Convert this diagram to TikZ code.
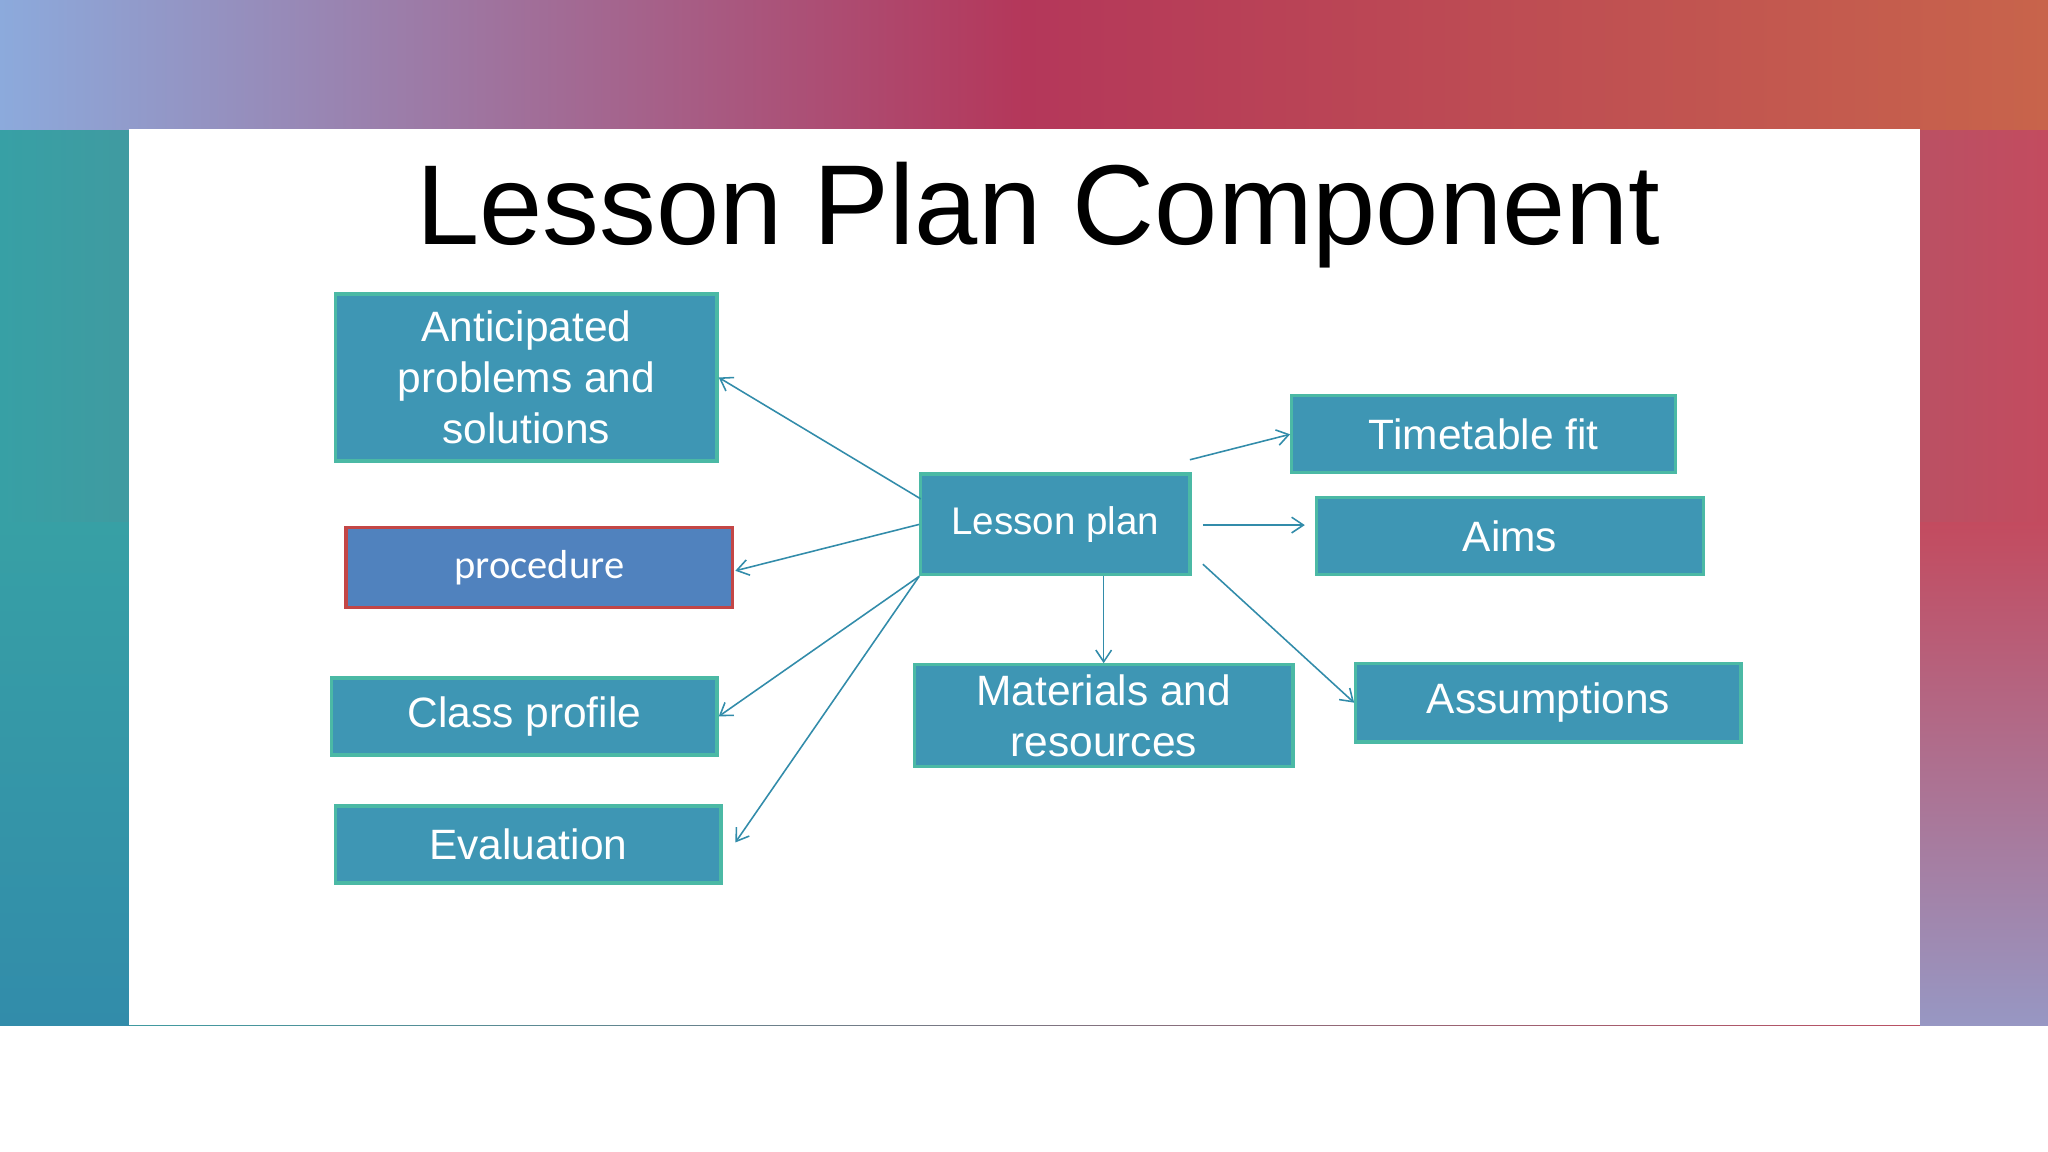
\documentclass[tikz,border=0pt]{standalone}
\usepackage{fontspec}
\setmainfont{Liberation Sans}
\newfontfamily\calib{Carlito}
\usetikzlibrary{arrows.meta}
\definecolor{boxfill}{RGB}{62,150,180}
\definecolor{boxline}{RGB}{75,185,165}
\definecolor{procfill}{RGB}{80,130,190}
\definecolor{procline}{RGB}{195,70,70}
\definecolor{arr}{RGB}{50,140,170}
\definecolor{bgl}{RGB}{55,160,165}
\definecolor{bgr}{RGB}{195,75,95}
\definecolor{topl}{RGB}{140,170,220}
\definecolor{topm}{RGB}{180,55,90}
\definecolor{topr}{RGB}{200,100,75}
\tikzset{
  bx/.style={draw=boxline, line width=2.5pt, fill=boxfill, text=white, align=center, inner sep=0pt, font=\fontsize{32.5}{39}\selectfont},
  ar/.style={draw=arr, line width=1.2pt, -{Straight Barb[length=9pt,width=12pt]}}
}
\begin{document}
\begin{tikzpicture}[x=1pt,y=-1pt]
\useasboundingbox (0,0) rectangle (1568,882);
\fill[white] (0,0) rectangle (1568,882);
\shade[left color=bgl, right color=bgr] (0,0) rectangle (1568,785);
\shade[left color=topl, right color=topr, middle color=topm] (0,0) rectangle (1568,99);
\shade[top color=bgr, bottom color=topl!80!bgr] (1470,400) rectangle (1568,785);
\shade[top color=bgl, bottom color=arr] (0,400) rectangle (99,785);
\fill[white] (99,99) rectangle (1470,785);
\node (title) at (795,165) {\fontsize{87}{95}\selectfont Lesson Plan Component};
\node[bx, minimum width=292, minimum height=128] (ant) at (403,289) {Anticipated\\problems and\\solutions};
\node[bx, fill=procfill, draw=procline, minimum width=296, minimum height=61, font=\calib\fontsize{31}{36}\selectfont] (proc) at (413,434.5) {procedure};
\node[bx, minimum width=295, minimum height=59] (cls) at (401.5,548.5) {Class profile};
\node[bx, minimum width=295, minimum height=59] (ev) at (404.5,646.5) {Evaluation};
\node[bx, minimum width=206, minimum height=77, font=\fontsize{29.5}{34}\selectfont] (lp) at (808,401.5) {Lesson plan};
\node[bx, minimum width=290, minimum height=78] (mat) at (845,548) {Materials and\\resources};
\node[bx, minimum width=294, minimum height=59] (tt) at (1136,332.5) {Timetable fit};
\node[bx, minimum width=296, minimum height=59] (aims) at (1156,410.5) {Aims};
\node[bx, minimum width=295, minimum height=60] (ass) at (1185.5,538) {Assumptions};
\coordinate (p1) at (705,382);
\coordinate (p2) at (911,352);
\coordinate (p3) at (921,402);
\coordinate (p4) at (921,432);
\coordinate (q1) at (563,437);
\coordinate (q2) at (563,645);
\coordinate (q3) at (999,402);
\draw[ar] (p1) -- (ant.east);
\draw[ar] (lp.west) -- (q1);
\draw[ar] (lp.south west) -- (cls.east);
\draw[ar] (lp.south west) -- (q2);
\draw[ar] (lp.south -| mat.north) -- (mat.north);
\draw[ar] (p2) -- (tt.west);
\draw[ar] (p3) -- (q3);
\draw[ar] (p4) -- (ass.west);
\end{tikzpicture}
\end{document}
